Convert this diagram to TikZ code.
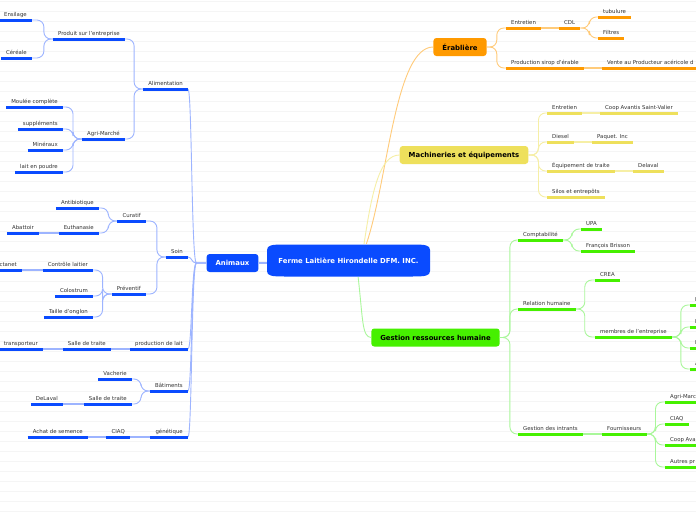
\documentclass[tikz,border=0pt]{standalone}
\usepackage{fontspec}
\setmainfont{DejaVu Sans}
\definecolor{bluS}{HTML}{0A4BFF}
\definecolor{bluL}{HTML}{9DB4FF}
\definecolor{orgS}{HTML}{FF9A00}
\definecolor{orgL}{HTML}{FFCB7A}
\definecolor{yelS}{HTML}{EEE05C}
\definecolor{yelL}{HTML}{F6EFA6}
\definecolor{grnS}{HTML}{46F000}
\definecolor{grnL}{HTML}{A9F79A}
\definecolor{leaftext}{HTML}{333333}
\begin{document}
\begin{tikzpicture}[
    x=1pt, y=-1pt,
    every node/.style={font=\fontsize{5.4}{6}\selectfont, text=leaftext},
    leaf/.style={inner xsep=5pt, inner ysep=2.6pt, text height=4.2pt, text depth=1.2pt},
    lf/.style={leaf, anchor=south east},
    rt/.style={leaf, anchor=south west},
    main/.style={rectangle, rounded corners=3pt, minimum height=18pt, inner xsep=9pt, inner ysep=0pt,
        font=\fontsize{6.9}{8}\selectfont\bfseries, text=black},
    rule/.style={black!4, line width=0.6pt},
    br/.style={rounded corners=7pt},
    ub/.style={bluS, line width=3pt}, cb/.style={bluL, line width=0.9pt}, sb/.style={bluL, line width=1.8pt},
    uo/.style={orgS, line width=3pt}, co/.style={orgL, line width=0.9pt}, so/.style={orgL, line width=1.8pt},
    uy/.style={yelS, line width=3pt}, cy/.style={yelL, line width=0.9pt}, sy/.style={yelL, line width=1.8pt},
    ug/.style={grnS, line width=3pt}, cg/.style={grnL, line width=0.9pt}, sg/.style={grnL, line width=1.8pt}
]

\useasboundingbox (0,0) rectangle (696,520);
\fill[white] (0,0) rectangle (696,520);
\foreach \y in {1,11,...,511} \draw[rule] (0,\y) -- (696,\y);

\fill[bluS] (267,250) .. controls (267,245) and (272,244.5) .. (285,244.5) -- (412,244.5)
    .. controls (425,244.5) and (430,245) .. (430,250) -- (430,271)
    .. controls (430,276) and (425,276.5) .. (412,276.5) -- (285,276.5)
    .. controls (272,276.5) and (267,276) .. (267,271) -- cycle;
\node[minimum width=163pt, minimum height=33pt, inner sep=0pt, text=white,
    font=\fontsize{6.9}{8}\selectfont\bfseries] (root) at (348.5,260.5) {Ferme Laitière Hirondelle DFM. INC.};

\node[main, fill=bluS, text=white] (animaux) at (232.5,263) {Animaux};
\node[main, fill=orgS] (erab) at (460,47) {Érablière};
\node[main, fill=yelS] (mach) at (464,155) {Machineries et équipements};
\node[main, fill=grnS] (gest) at (435.5,337.5) {Gestion ressources humaine};

\node[lf] (alim) at (188,89) {Alimentation};
\node[lf] (prod) at (125,39) {Produit sur l'entreprise};
\node[lf] (ensil) at (32,20) {Ensilage};
\node[lf] (cere) at (32,58) {Céréale};
\node[lf] (agri) at (125,139) {Agri-Marché};
\node[lf] (moulee) at (63,107) {Moulée complète};
\node[lf] (suppl) at (63,129) {suppléments};
\node[lf] (miner) at (63,150) {Minéraux};
\node[lf] (laitp) at (63,172) {lait en poudre};
\node[lf] (soin) at (188,257) {Soin};
\node[lf] (curat) at (146,221) {Curatif};
\node[lf] (antib) at (99,208) {Antibiotique};
\node[lf] (euth) at (99,233) {Euthanasie};
\node[lf] (abat) at (39,233) {Abattoir};
\node[lf] (prev) at (146,294) {Préventif};
\node[lf] (ctrl) at (93,270) {Contrôle laitier};
\node[lf] (lact) at (22,270) {ctanet};
\node[lf] (colo) at (93,296) {Colostrum};
\node[lf] (taille) at (93,317) {Taille d'onglon};
\node[lf] (prodl) at (188,349) {production de lait};
\node[lf] (sallet) at (111,349) {Salle de traite};
\node[lf] (transp) at (43,349) {transporteur};
\node[lf] (bat) at (188,391) {Bâtiments};
\node[lf] (vach) at (132,379) {Vacherie};
\node[lf] (salleb) at (132,404) {Salle de traite};
\node[lf] (delav) at (63,404) {DeLaval};
\node[lf] (genet) at (188,437) {génétique};
\node[lf] (ciaq) at (130,437) {CIAQ};
\node[lf] (achat) at (88,437) {Achat de semence};

\node[rt] (entE) at (506,28) {Entretien};
\node[rt] (cdl) at (559,28) {CDL};
\node[rt] (tubu) at (598,17) {tubulure};
\node[rt] (filt) at (598,38) {Filtres};
\node[rt] (sirop) at (506,68) {Production sirop d'érable};
\node[rt] (vente) at (602,68) {Vente au Producteur acéricole d};

\node[rt] (entM) at (547,113) {Entretien};
\node[rt] (coop) at (600,113) {Coop Avantis Saint-Valier};
\node[rt] (dies) at (547,142) {Diesel};
\node[rt] (paq) at (592,142) {Paquet. Inc};
\node[rt] (equip) at (547,171) {Équipement de traite};
\node[rt] (delv) at (633,171) {Delaval};
\node[rt] (silos) at (547,197) {Silos et entrepôts};

\node[rt] (compt) at (518,240) {Comptabilité};
\node[rt] (upa) at (581,229) {UPA};
\node[rt] (fbri) at (581,251) {François Brisson};
\node[rt] (relh) at (518,309) {Relation humaine};
\node[rt] (crea) at (595,280) {CREA};
\node[rt] (memb) at (595,337) {membres de l'entreprise};
\node[rt] (mA) at (690,305) {N};
\node[rt] (mB) at (690,327) {N};
\node[rt] (mC) at (690,348) {D};
\node[rt] (mD) at (690,369) {A};
\node[rt] (gint) at (518,434) {Gestion des intrants};
\node[rt] (fourn) at (602,434) {Fournisseurs};
\node[rt] (fA) at (665,402) {Agri-Marc};
\node[rt] (fB) at (665,424) {CIAQ};
\node[rt] (fC) at (665,445) {Coop Ava};
\node[rt] (fD) at (665,467) {Autres pr};

\draw[sb] (animaux.east) -- (animaux.east -| root.west);
\draw[co] (root.43) .. controls (388,180) and (395,47) .. (erab.west);
\draw[cy] (root.47) .. controls (372,190) and (380,155) .. (mach.west);
\draw[cg] (root.-60) .. controls (363,320) and (362,337) .. (gest.west);

\foreach \c in {alim,soin,prodl,bat,genet}
    \draw[cb] (animaux.west) -- ++(-10,0) .. controls +(-5,0) and +(4,0) .. (\c.south east);
\foreach \p/\c in {alim/prod, alim/agri, prod/ensil, prod/cere, agri/moulee, agri/suppl, agri/miner,
    agri/laitp, soin/curat, soin/prev, curat/antib, curat/euth, prev/ctrl, prev/colo, prev/taille,
    bat/vach, bat/salleb}
    \draw[cb, br] (\p.south west) -- ++(-9,0) |- (\c.south east);
\foreach \p/\c in {euth/abat, ctrl/lact, prodl/sallet, sallet/transp, salleb/delav, genet/ciaq, ciaq/achat}
    \draw[sb] (\p.south west) -- (\c.south east);
\foreach \n in {alim,prod,ensil,cere,agri,moulee,suppl,miner,laitp,soin,curat,antib,euth,abat,prev,
    ctrl,lact,colo,taille,prodl,sallet,transp,bat,vach,salleb,delav,genet,ciaq,achat}
    \draw[ub] (\n.south west) -- (\n.south east);

\foreach \c in {entE,sirop}
    \draw[co, br] (erab.east) -- ++(10,0) |- (\c.south west);
\draw[co, br] (cdl.south east) -- ++(9,0) |- (tubu.south west);
\draw[co, br] (cdl.south east) -- ++(9,0) |- (filt.south west);
\draw[so] (entE.south east) -- (cdl.south west);
\draw[so] (sirop.south east) -- (vente.south west);
\foreach \n in {entE,cdl,tubu,filt,sirop,vente}
    \draw[uo] (\n.south west) -- (\n.south east);

\foreach \c in {entM,dies,equip,silos}
    \draw[cy, br] (mach.east) -- ++(10,0) |- (\c.south west);
\foreach \p/\c in {entM/coop, dies/paq, equip/delv}
    \draw[sy] (\p.south east) -- (\c.south west);
\foreach \n in {entM,coop,dies,paq,equip,delv,silos}
    \draw[uy] (\n.south west) -- (\n.south east);

\foreach \c in {compt,relh,gint}
    \draw[cg, br] (gest.east) -- ++(10,0) |- (\c.south west);
\foreach \p/\c in {compt/upa, compt/fbri, relh/crea, relh/memb, memb/mA, memb/mB, memb/mC, memb/mD,
    fourn/fA, fourn/fB, fourn/fC, fourn/fD}
    \draw[cg, br] (\p.south east) -- ++(9,0) |- (\c.south west);
\draw[sg] (gint.south east) -- (fourn.south west);
\foreach \n in {compt,upa,fbri,relh,crea,memb,mA,mB,mC,mD,gint,fourn,fA,fB,fC,fD}
    \draw[ug] (\n.south west) -- (\n.south east);

\end{tikzpicture}
\end{document}
